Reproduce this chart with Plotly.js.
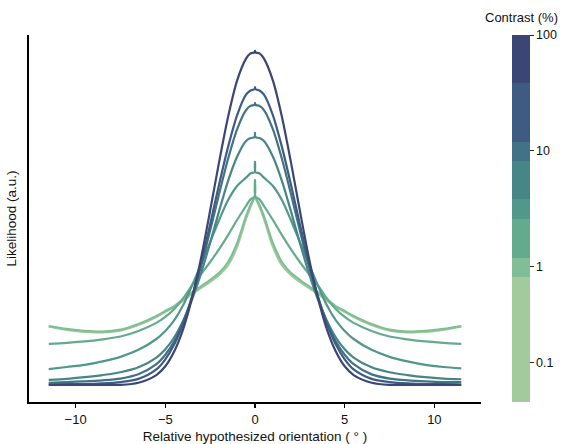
<!DOCTYPE html>
<html>
<head>
<meta charset="utf-8">
<script src="https://cdn.plot.ly/plotly-3.0.1.min.js"></script>
<style>html,body{margin:0;padding:0;background:#fff;}#chart{width:561px;height:444px;}</style>
</head>
<body>
<div id="chart"></div>
<script>
// Relative hypothesized orientation (deg)
const orientation = [-11.5,-10.5,-9.5,-8.5,-7.5,-6.5,-5.5,-5,-4.5,-4,-3.5,-3,-2.5,-2,-1.5,-1,-0.5,-0.25,-0.02,0,0.02,0.25,0.5,1,1.5,2,2.5,3,3.5,4,4.5,5,5.5,6.5,7.5,8.5,9.5,10.5,11.5];

// Likelihood (a.u.) per contrast level, highest contrast first
const likelihood1 = [0.049,0.049,0.049,0.049,0.049,0.055,0.077,0.102,0.145,0.209,0.299,0.413,0.547,0.686,0.815,0.918,0.981,0.996,0.999,1.003,0.999,0.996,0.981,0.918,0.815,0.686,0.547,0.413,0.299,0.209,0.145,0.102,0.077,0.055,0.049,0.049,0.049,0.049,0.049];
const likelihood2 = [0.050,0.051,0.051,0.053,0.057,0.066,0.093,0.122,0.165,0.225,0.303,0.399,0.508,0.622,0.729,0.819,0.878,0.890,0.894,0.900,0.894,0.890,0.878,0.819,0.729,0.622,0.508,0.399,0.303,0.225,0.165,0.122,0.093,0.066,0.057,0.053,0.051,0.051,0.050];
const likelihood3 = [0.055,0.057,0.059,0.062,0.067,0.079,0.108,0.135,0.174,0.229,0.301,0.389,0.490,0.595,0.695,0.779,0.834,0.846,0.849,0.854,0.849,0.846,0.834,0.779,0.695,0.595,0.490,0.389,0.301,0.229,0.174,0.135,0.108,0.079,0.067,0.062,0.059,0.057,0.057];
const likelihood4 = [0.063,0.066,0.071,0.077,0.085,0.099,0.127,0.151,0.185,0.233,0.294,0.369,0.455,0.546,0.632,0.701,0.746,0.754,0.757,0.769,0.757,0.754,0.746,0.701,0.632,0.546,0.455,0.369,0.294,0.233,0.185,0.151,0.127,0.099,0.085,0.077,0.071,0.067,0.065];
const likelihood5 = [0.094,0.100,0.106,0.116,0.129,0.149,0.180,0.203,0.234,0.277,0.334,0.394,0.457,0.520,0.577,0.617,0.641,0.653,0.657,0.686,0.657,0.653,0.641,0.617,0.577,0.520,0.457,0.394,0.334,0.277,0.234,0.203,0.180,0.149,0.129,0.116,0.106,0.100,0.096];
const likelihood6 = [0.166,0.169,0.173,0.179,0.187,0.203,0.226,0.243,0.266,0.297,0.334,0.366,0.400,0.437,0.477,0.520,0.560,0.579,0.587,0.634,0.587,0.579,0.560,0.520,0.477,0.437,0.400,0.366,0.334,0.297,0.266,0.243,0.226,0.203,0.187,0.179,0.173,0.169,0.166];
const likelihood7 = [0.217,0.209,0.203,0.201,0.207,0.223,0.246,0.260,0.274,0.294,0.314,0.331,0.349,0.369,0.400,0.454,0.531,0.563,0.586,0.591,0.586,0.563,0.531,0.454,0.400,0.369,0.349,0.331,0.314,0.294,0.274,0.260,0.246,0.223,0.207,0.201,0.203,0.209,0.217];
const likelihood8 = [0.216,0.206,0.200,0.199,0.204,0.220,0.243,0.257,0.271,0.290,0.309,0.326,0.343,0.363,0.391,0.443,0.523,0.557,0.583,0.583,0.583,0.557,0.523,0.443,0.391,0.363,0.343,0.326,0.309,0.290,0.271,0.257,0.243,0.220,0.204,0.199,0.200,0.206,0.216];

// Colour bar: contrast band edges (%), low to high, and tick labels
const contrastEdges = [0.068, 0.82, 1.2, 2.6, 3.86, 8.1, 12.0, 38.4, 100];
const cbarTickText = ['0.1', '1', '10', '100'];
const cbarTickPos = [-0.83, 0, 1, 2];

// styles
const curveColors = ['#3b4674','#3e5c81','#417285','#478686','#51988a','#64ab8e','#80bf96','#a1cb9a'];
const series = [likelihood1, likelihood2, likelihood3, likelihood4, likelihood5, likelihood6, likelihood7, likelihood8];

const traces = [];
for (let i = series.length - 1; i >= 0; i--) {
  traces.push({
    x: orientation, y: series[i], type: 'scatter', mode: 'lines',
    line: {color: curveColors[i], width: 2.2, shape: 'spline', smoothing: 0.8},
    hoverinfo: 'skip', showlegend: false
  });
}

// discrete colour scale (bands bottom -> top = lowest -> highest contrast)
const logEdges = contrastEdges.map(v => Math.log10(v));
const cmin = logEdges[0], cmax = logEdges[logEdges.length - 1];
const bandColors = curveColors.slice().reverse();
const colorscale = [];
for (let b = 0; b < bandColors.length; b++) {
  const t0 = (logEdges[b] - cmin) / (cmax - cmin);
  const t1 = (logEdges[b + 1] - cmin) / (cmax - cmin);
  colorscale.push([Math.max(0, t0), bandColors[b]]);
  colorscale.push([Math.min(1, t1), bandColors[b]]);
}

traces.push({
  x: [0], y: [-5], type: 'scatter', mode: 'markers',
  marker: {
    size: 1, opacity: 0, color: [0], cmin: cmin, cmax: cmax,
    colorscale: colorscale, showscale: true,
    colorbar: {
      x: 1.0686, xanchor: 'left', y: 0.5, yanchor: 'middle',
      len: 1.0, lenmode: 'fraction', thickness: 18, thicknessmode: 'pixels',
      xpad: 0, ypad: 0, outlinewidth: 0,
      tickmode: 'array', tickvals: cbarTickPos, ticktext: cbarTickText,
      ticks: 'outside', ticklen: 4, tickwidth: 1, tickcolor: '#222',
      tickfont: {family: 'Liberation Sans, Arial, sans-serif', size: 12.5, color: '#111'}
    }
  },
  hoverinfo: 'skip', showlegend: false
});

const font = {family: 'Liberation Sans, Arial, sans-serif', size: 13, color: '#111'};
const titleFont = {family: 'Liberation Sans, Arial, sans-serif', size: 13.5, color: '#111'};

const layout = {
  width: 561, height: 444,
  margin: {l: 29, r: 80, t: 35, b: 42, autoexpand: false},
  paper_bgcolor: '#fff', plot_bgcolor: '#fff',
  font: font,
  showlegend: false,
  xaxis: {
    range: [-12.6, 12.6], tickvals: [-10, -5, 0, 5, 10],
    ticks: 'outside', ticklen: 4, tickwidth: 1.5, tickcolor: '#000',
    showline: true, linecolor: '#000', linewidth: 2, mirror: false,
    showgrid: false, zeroline: false, automargin: false,
    tickfont: font,
    title: {text: 'Relative hypothesized orientation ( ° )', font: titleFont, standoff: 8}
  },
  yaxis: {
    range: [0, 1.0486], showticklabels: false, ticks: '',
    showline: true, linecolor: '#000', linewidth: 2, mirror: false,
    showgrid: false, zeroline: false, automargin: false,
    title: {text: 'Likelihood (a.u.)', font: titleFont, standoff: 7}
  },
  annotations: [{
    text: 'Contrast (%)', xref: 'paper', yref: 'paper',
    x: 1.0885, y: 1.049, xanchor: 'center', yanchor: 'middle',
    showarrow: false, font: font
  }]
};

Plotly.newPlot('chart', traces, layout, {staticPlot: true, displayModeBar: false});
</script>
</body>
</html>
